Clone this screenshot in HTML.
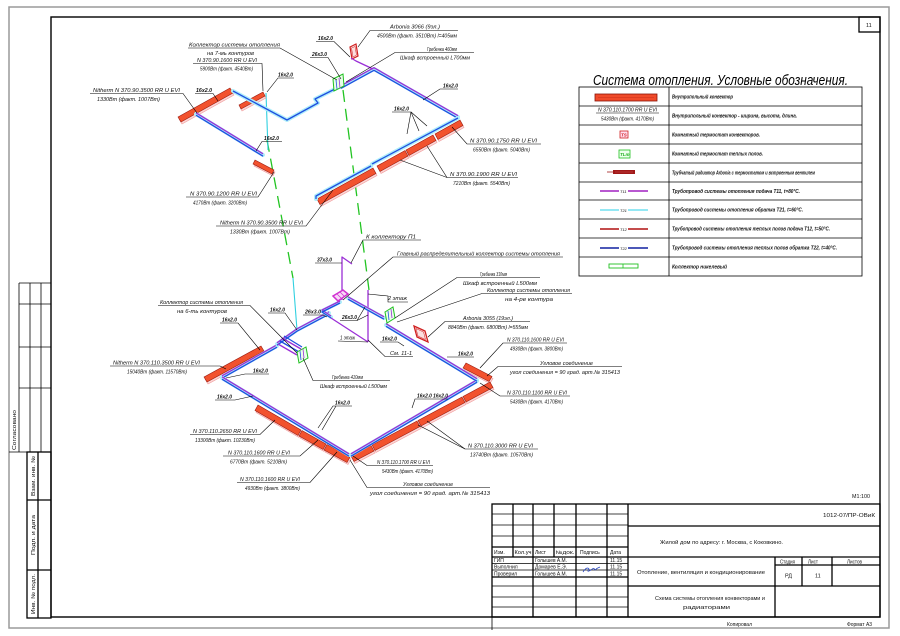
<!DOCTYPE html>
<html><head><meta charset="utf-8">
<style>
html,body{margin:0;padding:0;background:#fff;width:900px;height:636px;overflow:hidden;}
svg{display:block;}
.t{font-family:"Liberation Sans",sans-serif;font-style:italic;font-size:5.5px;fill:#111;}
.b{font-weight:bold;}
.n{font-family:"Liberation Sans",sans-serif;font-size:5.5px;fill:#111;}
.l{stroke:#000;stroke-width:0.6;fill:none;}
.h{stroke:#aeeefa;stroke-width:4;fill:none;stroke-linejoin:round;stroke-linecap:round;}
.pp{stroke:#9a2ed6;stroke-width:1.3;fill:none;stroke-linejoin:round;}
.bb{stroke:#1f4ee0;stroke-width:1.3;fill:none;stroke-linejoin:round;}
.rs{fill:#fcd6d6;stroke:#f09a9a;stroke-width:0.6;}
.rf{fill:#f2522e;stroke:#9a1a10;stroke-width:0.6;}
.g{stroke:#22c422;stroke-width:1.3;fill:none;stroke-dasharray:12 7;}
.k{stroke:#000;stroke-width:1.3;fill:none;}
.kt{stroke:#000;stroke-width:0.8;fill:none;}
.c{stroke:#30d0e0;stroke-width:1.1;fill:none;}
</style></head><body>
<svg width="900" height="636" viewBox="0 0 900 636" xmlns="http://www.w3.org/2000/svg">
<rect x="0" y="0" width="900" height="636" fill="#fff"/>
<!-- frames -->
<rect x="9" y="7" width="880" height="621" fill="none" stroke="#9a9a9a" stroke-width="1.5"/>
<rect x="51" y="17" width="829" height="600" fill="none" stroke="#000" stroke-width="1.4"/>
<rect x="859" y="17" width="21" height="15" class="k"/>
<text class="n" x="866" y="27">11</text>

<!-- left stamp -->
<g class="kt">
<line x1="19" y1="283" x2="51" y2="283"/>
<line x1="19" y1="304" x2="51" y2="304"/>
<line x1="19" y1="347" x2="51" y2="347"/>
<line x1="19" y1="388" x2="51" y2="388"/>
<line x1="19" y1="283" x2="19" y2="452"/>
<line x1="30" y1="283" x2="30" y2="452"/>
<line x1="41" y1="283" x2="41" y2="452"/>
<line x1="9" y1="452" x2="51" y2="452"/>
</g>
<g class="k">
<rect x="27" y="452" width="24" height="166"/>
<line x1="38" y1="452" x2="38" y2="618"/>
<line x1="27" y1="500" x2="51" y2="500"/>
<line x1="27" y1="570" x2="51" y2="570"/>
</g>
<text class="n" transform="translate(16,450) rotate(-90)" textLength="40" lengthAdjust="spacingAndGlyphs">Согласовано</text>
<text class="n" transform="translate(35,496) rotate(-90)" textLength="40" lengthAdjust="spacingAndGlyphs">Взам. инв. №</text>
<text class="n" transform="translate(35,555) rotate(-90)" textLength="40" lengthAdjust="spacingAndGlyphs">Подп. и дата</text>
<text class="n" transform="translate(35,614) rotate(-90)" textLength="40" lengthAdjust="spacingAndGlyphs">Инв. № подл.</text>

<!-- legend -->
<text x="593" y="85" font-family="Liberation Sans, sans-serif" font-style="italic" font-size="14.5" fill="#000" textLength="255" lengthAdjust="spacingAndGlyphs">Система отопления. Условные обозначения.</text>
<g class="kt">
<rect x="579" y="87" width="283" height="189"/>
<line x1="669" y1="87" x2="669" y2="276"/>
<line x1="579" y1="106" x2="862" y2="106"/>
<line x1="579" y1="125" x2="862" y2="125"/>
<line x1="579" y1="144" x2="862" y2="144"/>
<line x1="579" y1="163" x2="862" y2="163"/>
<line x1="579" y1="182" x2="862" y2="182"/>
<line x1="579" y1="200" x2="862" y2="200"/>
<line x1="579" y1="219" x2="862" y2="219"/>
<line x1="579" y1="238" x2="862" y2="238"/>
<line x1="579" y1="257" x2="862" y2="257"/>
</g>
<rect x="595" y="94" width="62" height="7" fill="#f04a2a" stroke="#8a1208" stroke-width="0.8"/>
<line x1="598" y1="97.5" x2="654" y2="97.5" stroke="#c02818" stroke-width="0.4"/>
<text class="t" x="598" y="111.5" textLength="59" lengthAdjust="spacingAndGlyphs">N 370.110.1700 RR U EVI</text>
<line class="l" x1="596" y1="113" x2="659" y2="113"/>
<text class="t" x="601" y="120.5" textLength="53" lengthAdjust="spacingAndGlyphs">5430Вт (факт. 4170Вт)</text>
<rect x="620" y="131" width="8" height="7" fill="#fde" stroke="#d02020" stroke-width="0.8"/>
<text class="t b" x="621" y="136.5" style="fill:#d02020;font-size:4.5px">TS</text>
<rect x="619" y="150" width="11" height="8" fill="#efe" stroke="#20c020" stroke-width="0.8"/>
<text class="t b" x="620" y="156" style="fill:#20b020;font-size:4.5px">TLm</text>
<line x1="607" y1="172" x2="614" y2="172" stroke="#a01818" stroke-width="0.8"/>
<rect x="613" y="170" width="22" height="4" fill="#a01818"/>
<line x1="615" y1="172" x2="633" y2="172" stroke="#e06060" stroke-width="0.4"/>
<line x1="600" y1="191" x2="648" y2="191" stroke="#a020c0" stroke-width="1.6"/>
<rect x="619" y="188" width="9" height="6" fill="#fff"/>
<text class="t" x="620" y="193" style="font-size:4px">T11</text>
<line x1="600" y1="210" x2="648" y2="210" stroke="#70e0f0" stroke-width="1.6"/>
<rect x="619" y="207" width="9" height="6" fill="#fff"/>
<text class="t" x="620" y="212" style="font-size:4px">T21</text>
<line x1="600" y1="229" x2="648" y2="229" stroke="#b01010" stroke-width="1.4"/>
<rect x="619" y="226" width="9" height="6" fill="#fff"/>
<text class="t" x="620" y="231" style="font-size:4px">T12</text>
<line x1="600" y1="248" x2="648" y2="248" stroke="#1020a0" stroke-width="1.4"/>
<rect x="619" y="245" width="9" height="6" fill="#fff"/>
<text class="t" x="620" y="250" style="font-size:4px">T22</text>
<rect x="609" y="264" width="29" height="4" fill="#fff" stroke="#20c020" stroke-width="0.9"/>
<line x1="623" y1="264" x2="623" y2="268" stroke="#20c020" stroke-width="0.8"/>
<g class="t b" style="font-size:5px">
<text x="672" y="98.5" textLength="61" lengthAdjust="spacingAndGlyphs">Внутрипольный конвектор</text>
<text x="672" y="117.5" textLength="125" lengthAdjust="spacingAndGlyphs">Внутрипольный конвектор - ширина, высота, длина.</text>
<text x="672" y="136.5" textLength="88" lengthAdjust="spacingAndGlyphs">Комнатный термостат конвекторов.</text>
<text x="672" y="155.5" textLength="91" lengthAdjust="spacingAndGlyphs">Комнатный термостат теплых полов.</text>
<text x="672" y="174.5" textLength="143" lengthAdjust="spacingAndGlyphs">Трубчатый радиатор Arbonia с термостатом и встроенным вентилем</text>
<text x="672" y="193" textLength="128" lengthAdjust="spacingAndGlyphs">Трубопровод системы отопления подача Т11, t=80°С.</text>
<text x="672" y="211.5" textLength="131" lengthAdjust="spacingAndGlyphs">Трубопровод системы отопления обратка Т21, t=60°С.</text>
<text x="672" y="230.5" textLength="158" lengthAdjust="spacingAndGlyphs">Трубопровод системы отопления теплых полов подача Т12, t=50°С.</text>
<text x="672" y="249.5" textLength="165" lengthAdjust="spacingAndGlyphs">Трубопровод системы отопления теплых полов обратка Т22, t=40°С.</text>
<text x="672" y="268.5" textLength="55" lengthAdjust="spacingAndGlyphs">Коллектор никелевый</text>
</g>

<!-- title block -->
<text class="n" x="852" y="498" textLength="18" lengthAdjust="spacingAndGlyphs">М1:100</text>
<g class="k">
<rect x="492" y="504" width="388" height="113"/>
<line x1="628" y1="504" x2="628" y2="617"/>
<line x1="628" y1="526" x2="880" y2="526"/>
<line x1="628" y1="557" x2="880" y2="557"/>
<line x1="628" y1="586" x2="880" y2="586"/>
<line x1="775" y1="557" x2="775" y2="617"/>
<line x1="802" y1="557" x2="802" y2="586"/>
<line x1="832" y1="557" x2="832" y2="586"/>
<line x1="775" y1="565" x2="880" y2="565"/>
<line x1="513" y1="504" x2="513" y2="557"/>
<line x1="554" y1="504" x2="554" y2="557"/>
<line x1="533" y1="504" x2="533" y2="617"/>
<line x1="576" y1="504" x2="576" y2="617"/>
<line x1="607" y1="504" x2="607" y2="617"/>
<line x1="492" y1="547" x2="628" y2="547"/>
<line x1="492" y1="557" x2="628" y2="557"/>
<line x1="492" y1="577" x2="628" y2="577"/>
</g>
<g class="kt">
<line x1="492" y1="514" x2="628" y2="514"/>
<line x1="492" y1="525" x2="628" y2="525"/>
<line x1="492" y1="536" x2="628" y2="536"/>
<line x1="492" y1="563.5" x2="628" y2="563.5"/>
<line x1="492" y1="570" x2="628" y2="570"/>
<line x1="492" y1="586" x2="628" y2="586"/>
<line x1="492" y1="597" x2="628" y2="597"/>
<line x1="492" y1="607" x2="628" y2="607"/>
<line x1="492" y1="617" x2="492" y2="630"/>
</g>
<g class="n" style="font-size:5px">
<text x="494" y="554">Изм.</text>
<text x="514.5" y="554" textLength="17" lengthAdjust="spacingAndGlyphs">Кол.уч</text>
<text x="535" y="554">Лист</text>
<text x="555.5" y="554" textLength="19" lengthAdjust="spacingAndGlyphs">№док.</text>
<text x="580" y="554">Подпись</text>
<text x="610" y="554">Дата</text>
<text x="494" y="562">ГИП</text>
<text x="535" y="562" textLength="32" lengthAdjust="spacingAndGlyphs">Голышев А.М.</text>
<text x="610" y="562">11.15</text>
<text x="494" y="568.5">Выполнил</text>
<text x="535" y="568.5" textLength="32" lengthAdjust="spacingAndGlyphs">Домарев Е.Э.</text>
<text x="610" y="568.5">11.15</text>
<text x="494" y="575.5">Проверил</text>
<text x="535" y="575.5" textLength="32" lengthAdjust="spacingAndGlyphs">Голышев А.М.</text>
<text x="610" y="575.5">11.15</text>
</g>
<path d="M583,572 q4,-6 6,-3 q-3,4 2,1 q3,-3 4,0 q2,-2 5,-3" stroke="#2040c0" stroke-width="0.7" fill="none"/>
<g class="n" style="font-size:5.5px">
<text x="823" y="517" textLength="52" lengthAdjust="spacingAndGlyphs">1012-07/ПР-ОВиК</text>
<text x="660" y="544" textLength="123" lengthAdjust="spacingAndGlyphs">Жилой дом по адресу: г. Москва, с Коковкино.</text>
<text x="637" y="574" textLength="128" lengthAdjust="spacingAndGlyphs">Отопление, вентиляция и кондиционирование</text>
<text x="655" y="600" textLength="110" lengthAdjust="spacingAndGlyphs">Схема системы отопления конвекторами и</text>
<text x="683" y="609" textLength="47" lengthAdjust="spacingAndGlyphs">радиаторами</text>
<text x="780" y="563.5" textLength="15" lengthAdjust="spacingAndGlyphs">Стадия</text>
<text x="808" y="563.5" textLength="10" lengthAdjust="spacingAndGlyphs">Лист</text>
<text x="847" y="563.5" textLength="15" lengthAdjust="spacingAndGlyphs">Листов</text>
<text x="785" y="577.5">РД</text>
<text x="815" y="577.5">11</text>
<text x="727" y="626" textLength="25" lengthAdjust="spacingAndGlyphs">Копировал</text>
<text x="847" y="626" textLength="25" lengthAdjust="spacingAndGlyphs">Формат А3</text>
</g>

<!-- green dashed and cyan risers -->
<line class="g" x1="343" y1="90" x2="369" y2="290"/>
<line class="g" x1="267" y1="140" x2="293" y2="278"/>
<line class="c" x1="266" y1="93" x2="268" y2="150"/>
<line class="c" x1="293" y1="278" x2="297" y2="330"/>

<!-- UPPER radiators -->
<g>
<polygon class="rs" transform="translate(1,2)" points="178,117 230,88 233,93 181,122"/>
<polygon class="rf" points="178,117 230,88 233,93 181,122"/>
<polygon class="rs" transform="translate(1,2)" points="239,105 263,92 265,96 241,109"/>
<polygon class="rf" points="239,105 263,92 265,96 241,109"/>
<polygon class="rs" transform="translate(1,2)" points="255,160 274,170 272,174 253,164"/>
<polygon class="rf" points="255,160 274,170 272,174 253,164"/>
<polygon class="rs" transform="translate(1,2)" points="317,199 373,168 376,173.5 320,204.5"/>
<polygon class="rf" points="317,199 373,168 376,173.5 320,204.5"/>
<polygon class="rs" transform="translate(1,2)" points="377,166 405,150.5 408,156 380,171.5"/>
<polygon class="rf" points="377,166 405,150.5 408,156 380,171.5"/>
<polygon class="rs" transform="translate(1,2)" points="406,150 433,135 436,140.5 409,155.5"/>
<polygon class="rf" points="406,150 433,135 436,140.5 409,155.5"/>
<polygon class="rs" transform="translate(1,2)" points="435,134 460,120 463,125.5 438,139.5"/>
<polygon class="rf" points="435,134 460,120 463,125.5 438,139.5"/>
</g>
<!-- upper Arbonia -->
<polygon points="350,47 356,44 358,56 352,59" fill="#fbe0e0" stroke="#d02020" stroke-width="1.2"/>
<polygon points="351.5,48 355,46.5 356.5,55 353,57" fill="none" stroke="#d02020" stroke-width="0.5"/>

<!-- UPPER pipes -->
<polyline class="h" points="233,91 287,120 318,103 315,99 323,95 341,86"/>
<polyline class="bb" points="233,91 287,120 318,103 315,99 323,95 341,86"/>
<polyline class="h" points="196,114 263,155"/>
<polyline class="pp" points="196,114 263,155" transform="translate(0,-1.2)"/>
<polyline class="bb" points="196,114 263,155" transform="translate(0,1.2)"/>
<polyline class="h" points="341,87 374,69 458,117"/>
<polyline class="pp" points="341,87 374,69 458,117" transform="translate(0,-1.3)"/>
<polyline class="bb" points="341,87 374,69 458,117" transform="translate(0,1.3)"/>
<polyline class="h" points="458,118 372,164"/>
<polyline class="bb" points="458,118 372,164"/>
<polyline class="h" points="371,166 316,196 316,199"/>
<polyline class="bb" points="371,166 316,196 316,199"/>
<polyline class="pp" points="351,58 356,61 373,69"/>
<!-- upper collector -->
<polygon points="333,79 343,74 344,86 334,91" fill="#e8ffe8" stroke="#20c020" stroke-width="1"/>
<line x1="336" y1="80" x2="337" y2="89" stroke="#2050e0" stroke-width="0.8"/>
<line x1="339" y1="78" x2="340" y2="88" stroke="#9a2ed6" stroke-width="0.8"/>

<!-- LOWER radiators -->
<g>
<polygon class="rs" transform="translate(1,2)" points="204,377 261,346 264,351 207,382"/>
<polygon class="rf" points="204,377 261,346 264,351 207,382"/>
<polygon class="rs" transform="translate(1,2)" points="466,363 492,376.5 489,381.5 463,368"/>
<polygon class="rf" points="466,363 492,376.5 489,381.5 463,368"/>
<polygon class="rs" transform="translate(1,2)" points="490,382 463,396.5 466,402 493,387.5"/>
<polygon class="rf" points="490,382 463,396.5 466,402 493,387.5"/>
<polygon class="rs" transform="translate(1,2)" points="462,397 418,420.5 421,426 465,402.5"/>
<polygon class="rf" points="462,397 418,420.5 421,426 465,402.5"/>
<polygon class="rs" transform="translate(1,2)" points="417,421 372,445 375,450.5 420,426.5"/>
<polygon class="rf" points="417,421 372,445 375,450.5 420,426.5"/>
<polygon class="rs" transform="translate(1,2)" points="371,445.5 351,456 354,461.5 374,451"/>
<polygon class="rf" points="371,445.5 351,456 354,461.5 374,451"/>
<polygon class="rs" transform="translate(1,2)" points="258,405 301,430 298,435.5 255,410.5"/>
<polygon class="rf" points="258,405 301,430 298,435.5 255,410.5"/>
<polygon class="rs" transform="translate(1,2)" points="302,430.5 326,444 323,449.5 299,436"/>
<polygon class="rf" points="302,430.5 326,444 323,449.5 299,436"/>
<polygon class="rs" transform="translate(1,2)" points="327,444.5 350,457 347,462.5 324,450"/>
<polygon class="rf" points="327,444.5 350,457 347,462.5 324,450"/>
</g>
<!-- lower Arbonia -->
<polygon points="414,326 425,331 428,342 417,337" fill="#fbe0e0" stroke="#d02020" stroke-width="1.3"/>
<polygon points="416,328.5 423.5,332 425.5,339.5 418,336" fill="none" stroke="#d02020" stroke-width="0.5"/>

<!-- LOWER pipes -->
<polyline class="h" points="277,346 222,377"/>
<polyline class="pp" points="277,346 222,377" transform="translate(0,-1.2)"/>
<polyline class="bb" points="277,346 222,377" transform="translate(0,1.2)"/>
<polyline class="h" points="222,378 349,455"/>
<polyline class="pp" points="222,378 349,455" transform="translate(0,-1.2)"/>
<polyline class="bb" points="222,378 349,455" transform="translate(0,1.2)"/>
<polyline class="h" points="351,455 477,381"/>
<polyline class="pp" points="351,455 477,381" transform="translate(0,-1.2)"/>
<polyline class="bb" points="351,455 477,381" transform="translate(0,1.2)"/>
<polyline class="h" points="477,380 386,325"/>
<polyline class="pp" points="477,380 386,325" transform="translate(0,-1.3)"/>
<polyline class="bb" points="477,380 386,325" transform="translate(0,1.3)"/>
<polyline class="h" points="329,313 297,330 277,344"/>
<polyline class="pp" points="329,313 297,330 277,344" transform="translate(0,-1.2)"/>
<polyline class="bb" points="329,313 297,330 277,344" transform="translate(0,1.2)"/>
<polyline class="pp" points="278,344 297,355"/>
<polyline class="bb" points="280,341 299,352"/>
<polyline class="pp" points="282,338 301,349"/>
<polyline class="bb" points="284,336 302,347"/>
<polyline class="h" points="340,302 322,311 331,317"/>
<polyline class="pp" points="340,302 322,311 331,317" transform="translate(0,-1)"/>
<polyline class="bb" points="340,302 322,311 331,317" transform="translate(0,1)"/>
<polyline class="pp" points="331,318 368,342"/>
<polyline class="pp" points="368,290 368,342"/>
<polyline class="pp" points="352,264 342,257 342,300"/>
<polyline class="h" points="348,298 384,318"/>
<polyline class="pp" points="348,298 384,318" transform="translate(0,-1.2)"/>
<polyline class="bb" points="348,298 384,318" transform="translate(0,1.2)"/>
<!-- collectors -->
<polygon points="333,296 343,290 348,294 338,301" fill="#f8d8f8" stroke="#d030d0" stroke-width="1.5"/>
<line x1="337" y1="294" x2="341" y2="298" stroke="#d030d0" stroke-width="0.7"/>
<line x1="340" y1="292" x2="344" y2="296" stroke="#d030d0" stroke-width="0.7"/>
<polygon points="297,352 306,347 308,358 299,363" fill="#eaffea" stroke="#20c020" stroke-width="1"/>
<line x1="300" y1="351" x2="301" y2="360" stroke="#2050e0" stroke-width="0.8"/>
<line x1="303" y1="349" x2="304" y2="358" stroke="#9a2ed6" stroke-width="0.8"/>
<polygon points="385,312 393,307 395,318 387,323" fill="#eaffea" stroke="#20c020" stroke-width="1"/>
<line x1="388" y1="311" x2="389" y2="320" stroke="#2050e0" stroke-width="0.8"/>
<line x1="391" y1="309" x2="392" y2="318" stroke="#9a2ed6" stroke-width="0.8"/>

<!-- LABELS -->
<g class="l">
<polyline points="358,47 370,30.5 458,30.5"/>
<polyline points="346,82 395,52.5 474,52.5"/>
<polyline points="337,80 280,48 188,48"/>
<polyline points="350,57 334,41.5 316,41.5"/>
<polyline points="341,79 328,57.5 310,57.5"/>
<polyline points="263,91 262,63.5 193,63.5"/>
<polyline points="267,92 278,78 294,78"/>
<polyline points="197,113 183,93.5 90,93.5"/>
<polyline points="218,101 213,93.5 195,93.5"/>
<polyline points="423,100 440,89 458,89"/>
<polyline points="419,131 411,112 392,112"/>
<line x1="411" y1="112" x2="427" y2="126"/>
<line x1="411" y1="112" x2="407" y2="134"/>
<polyline points="452,127 467,144 541,144"/>
<polyline points="400,160 447,177.5 518,177.5"/>
<line x1="447" y1="177.5" x2="427" y2="146"/>
<polyline points="256,151 262,141.5 282,141.5"/>
<polyline points="274,172 258,197 186,197"/>
<polyline points="333,190 306,226 216,226"/>
<polyline points="351,263 363,240 421,240"/>
<polyline points="343,300 393,257 563,257"/>
<polyline points="395,318 457,277.5 540,277.5"/>
<polyline points="397,322 482,293.5 572,293.5"/>
<polyline points="428,337 445,321.5 530,321.5"/>
<polyline points="480,368 503,343 567,343"/>
<polyline points="487,376 498,366.5 622,366.5"/>
<polyline points="480,383 500,396 570,396"/>
<polyline points="447,357 474,357"/>
<polyline points="412,408 415,399 448,399"/>
<polyline points="427,421 465,449 538,449"/>
<line x1="465" y1="449" x2="418" y2="425"/>
<polyline points="353,456 367,465.5 433,465.5"/>
<polyline points="350,460 367,487.5 490,487.5"/>
<polyline points="297,353 250,305.5 158,305.5"/>
<polyline points="297,330 285,313 268,313"/>
<polyline points="260,350 238,323 220,323"/>
<polyline points="327,317 323,315 303,315"/>
<polyline points="365,307 357,320.5 340,320.5"/>
<line x1="357" y1="320.5" x2="368" y2="315"/>
<polyline points="315,263 342,263"/>
<polyline points="368,294 388,296 388,302 408,302"/>
<polyline points="338,341 368,342"/>
<polyline points="380,342 398,342 404,346"/>
<polyline points="368,340 385,356.5 413,356.5"/>
<polyline points="303,358 313,380.5 390,380.5"/>
<polyline points="110,366 220,366 226,369"/>
<polyline points="226,378 245,374 269,374"/>
<polyline points="215,400 235,400 253,396"/>
<polyline points="318,428 333,406 352,406"/>
<line x1="336" y1="406" x2="322" y2="430"/>
<polyline points="275,420 260,434.5 190,434.5"/>
<polyline points="318,440 300,456 223,456"/>
<polyline points="337,452 310,482.5 237,482.5"/>
</g>
<g class="t">
<text x="390" y="28.5" textLength="50" lengthAdjust="spacingAndGlyphs">Arbonia 3066 (9эл.)</text>
<text x="377" y="37.5" textLength="80" lengthAdjust="spacingAndGlyphs">4500Вт (факт. 3510Вт) l=405мм</text>
<text x="427" y="51" textLength="30" lengthAdjust="spacingAndGlyphs">Гребенка 460мм</text>
<text x="400" y="59.5" textLength="70" lengthAdjust="spacingAndGlyphs">Шкаф встроенный L700мм</text>
<text x="189" y="46.5" textLength="91" lengthAdjust="spacingAndGlyphs">Коллектор системы отопления</text>
<text x="207" y="55" textLength="47" lengthAdjust="spacingAndGlyphs">на 7-мь контуров</text>
<text x="197" y="62" textLength="60" lengthAdjust="spacingAndGlyphs">N 370.90.1600 RR U EVI</text>
<text x="200" y="70.5" textLength="53" lengthAdjust="spacingAndGlyphs">5900Вт (факт. 4540Вт)</text>
<text x="93" y="92" textLength="87" lengthAdjust="spacingAndGlyphs">Nitherm N 370.90.3500 RR U EVI</text>
<text x="97" y="101" textLength="63" lengthAdjust="spacingAndGlyphs">1330Вт (факт. 1007Вт)</text>
<text x="470" y="142.5" textLength="67" lengthAdjust="spacingAndGlyphs">N 370.90.1750 RR U EVI</text>
<text x="473" y="151.5" textLength="57" lengthAdjust="spacingAndGlyphs">6550Вт (факт. 5040Вт)</text>
<text x="450" y="176" textLength="67" lengthAdjust="spacingAndGlyphs">N 370.90.1900 RR U EVI</text>
<text x="453" y="185" textLength="57" lengthAdjust="spacingAndGlyphs">7210Вт (факт. 5540Вт)</text>
<text x="190" y="195.5" textLength="67" lengthAdjust="spacingAndGlyphs">N 370.90.1200 RR U EVI</text>
<text x="193" y="204.5" textLength="54" lengthAdjust="spacingAndGlyphs">4170Вт (факт. 3200Вт)</text>
<text x="220" y="224.5" textLength="83" lengthAdjust="spacingAndGlyphs">Nitherm N 370.90.3500 RR U EVI</text>
<text x="230" y="233.5" textLength="60" lengthAdjust="spacingAndGlyphs">1330Вт (факт. 1007Вт)</text>
<text x="366" y="238.5" textLength="50" lengthAdjust="spacingAndGlyphs">К коллектору П1</text>
<text x="397" y="255.5" textLength="163" lengthAdjust="spacingAndGlyphs">Главный распределительный коллектор системы отопления</text>
<text x="480" y="276" textLength="27" lengthAdjust="spacingAndGlyphs">Гребенка 310мм</text>
<text x="463" y="285" textLength="74" lengthAdjust="spacingAndGlyphs">Шкаф встроенный L500мм</text>
<text x="487" y="292" textLength="83" lengthAdjust="spacingAndGlyphs">Коллектор системы отопления</text>
<text x="505" y="301" textLength="48" lengthAdjust="spacingAndGlyphs">на 4-ре контура</text>
<text x="463" y="320" textLength="50" lengthAdjust="spacingAndGlyphs">Arbonia 3055 (19эл.)</text>
<text x="448" y="329" textLength="80" lengthAdjust="spacingAndGlyphs">8840Вт (факт. 6800Вт) l=555мм</text>
<text x="507" y="341.5" textLength="57" lengthAdjust="spacingAndGlyphs">N 370.110.1600 RR U EVI</text>
<text x="510" y="350.5" textLength="53" lengthAdjust="spacingAndGlyphs">4930Вт (факт. 3800Вт)</text>
<text x="540" y="365" textLength="53" lengthAdjust="spacingAndGlyphs">Угловое соединение</text>
<text x="510" y="374" textLength="110" lengthAdjust="spacingAndGlyphs">угол соединения = 90 град. арт.№ 315413</text>
<text x="507" y="394.5" textLength="60" lengthAdjust="spacingAndGlyphs">N 370.110.1100 RR U EVI</text>
<text x="510" y="403.5" textLength="53" lengthAdjust="spacingAndGlyphs">5430Вт (факт. 4170Вт)</text>
<text x="468" y="447.5" textLength="65" lengthAdjust="spacingAndGlyphs">N 370.110.3000 RR U EVI</text>
<text x="470" y="456.5" textLength="63" lengthAdjust="spacingAndGlyphs">13740Вт (факт. 10570Вт)</text>
<text x="377" y="464" textLength="53" lengthAdjust="spacingAndGlyphs">N 370.110.1700 RR U EVI</text>
<text x="382" y="473" textLength="51" lengthAdjust="spacingAndGlyphs">5430Вт (факт. 4170Вт)</text>
<text x="403" y="486" textLength="50" lengthAdjust="spacingAndGlyphs">Угловое соединение</text>
<text x="370" y="495" textLength="120" lengthAdjust="spacingAndGlyphs">угол соединения = 90 град. арт.№ 315413</text>
<text x="160" y="304" textLength="83" lengthAdjust="spacingAndGlyphs">Коллектор системы отопления</text>
<text x="177" y="313" textLength="50" lengthAdjust="spacingAndGlyphs">на 6-ть контуров</text>
<text x="388" y="300" textLength="19" lengthAdjust="spacingAndGlyphs">2 этаж</text>
<text x="340" y="339.5" textLength="15" lengthAdjust="spacingAndGlyphs">1 этаж</text>
<text x="390" y="355" textLength="22" lengthAdjust="spacingAndGlyphs">См. 11-1</text>
<text x="332" y="379" textLength="31" lengthAdjust="spacingAndGlyphs">Гребенка 410мм</text>
<text x="320" y="388" textLength="67" lengthAdjust="spacingAndGlyphs">Шкаф встроенный L500мм</text>
<text x="113" y="364.5" textLength="87" lengthAdjust="spacingAndGlyphs">Nitherm N 370.110.3500 RR U EVI</text>
<text x="127" y="373.5" textLength="60" lengthAdjust="spacingAndGlyphs">15040Вт (факт. 11570Вт)</text>
<text x="193" y="433" textLength="64" lengthAdjust="spacingAndGlyphs">N 370.110.2650 RR U EVI</text>
<text x="195" y="442" textLength="60" lengthAdjust="spacingAndGlyphs">13300Вт (факт. 10230Вт)</text>
<text x="228" y="454.5" textLength="62" lengthAdjust="spacingAndGlyphs">N 370.110.1600 RR U EVI</text>
<text x="230" y="463.5" textLength="57" lengthAdjust="spacingAndGlyphs">6770Вт (факт. 5210Вт)</text>
<text x="240" y="481" textLength="60" lengthAdjust="spacingAndGlyphs">N 370.110.1600 RR U EVI</text>
<text x="245" y="490" textLength="55" lengthAdjust="spacingAndGlyphs">4930Вт (факт. 3800Вт)</text>
</g>
<g class="t b" style="font-size:5px">
<text x="318" y="40" textLength="15" lengthAdjust="spacingAndGlyphs">16х2.0</text>
<text x="312" y="56" textLength="15" lengthAdjust="spacingAndGlyphs">26х3.0</text>
<text x="278" y="76.5" textLength="15" lengthAdjust="spacingAndGlyphs">16х2.0</text>
<text x="196" y="92" textLength="16" lengthAdjust="spacingAndGlyphs">16х2.0</text>
<text x="443" y="87.5" textLength="15" lengthAdjust="spacingAndGlyphs">16х2.0</text>
<text x="394" y="110.5" textLength="15" lengthAdjust="spacingAndGlyphs">16х2.0</text>
<text x="264" y="140" textLength="15" lengthAdjust="spacingAndGlyphs">16х2.0</text>
<text x="458" y="355.5" textLength="15" lengthAdjust="spacingAndGlyphs">16х2.0</text>
<text x="417" y="397.5" textLength="31" lengthAdjust="spacingAndGlyphs">16х2.0 16х2.0</text>
<text x="270" y="311.5" textLength="15" lengthAdjust="spacingAndGlyphs">16х2.0</text>
<text x="222" y="321.5" textLength="15" lengthAdjust="spacingAndGlyphs">16х2.0</text>
<text x="305" y="313.5" textLength="16" lengthAdjust="spacingAndGlyphs">26х3.0</text>
<text x="342" y="319" textLength="15" lengthAdjust="spacingAndGlyphs">26х3.0</text>
<text x="317" y="261.5" textLength="15" lengthAdjust="spacingAndGlyphs">37х3.0</text>
<text x="382" y="340.5" textLength="15" lengthAdjust="spacingAndGlyphs">16х2.0</text>
<text x="253" y="372.5" textLength="15" lengthAdjust="spacingAndGlyphs">16х2.0</text>
<text x="217" y="398.5" textLength="15" lengthAdjust="spacingAndGlyphs">16х2.0</text>
<text x="335" y="404.5" textLength="15" lengthAdjust="spacingAndGlyphs">16х2.0</text>
</g>
</svg>
</body></html>
